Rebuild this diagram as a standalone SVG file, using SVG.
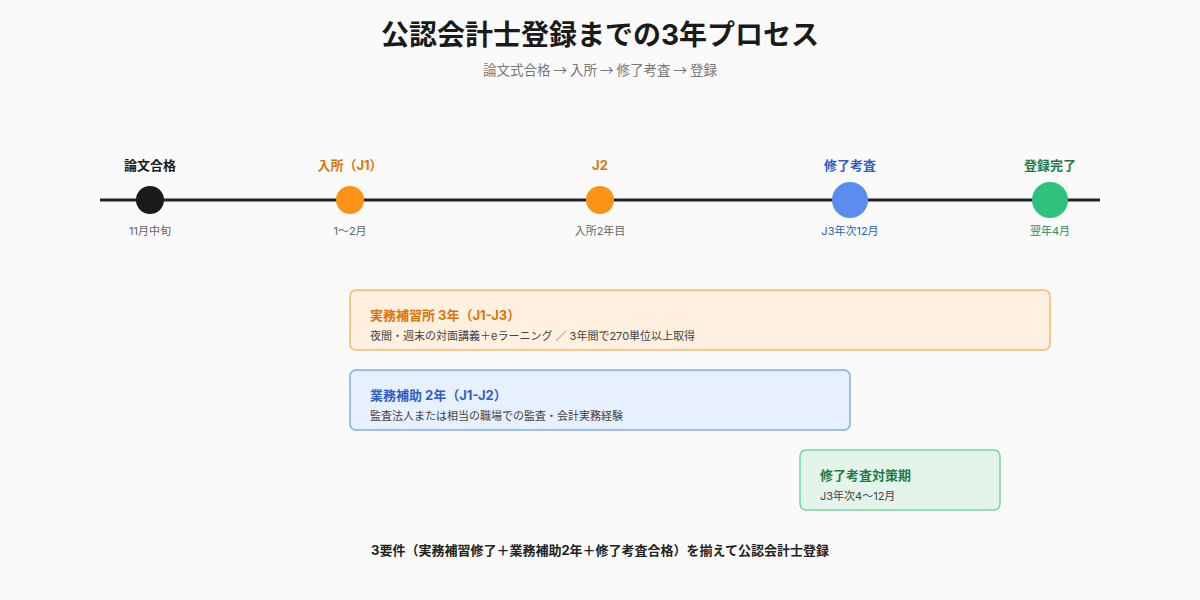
<svg xmlns="http://www.w3.org/2000/svg" width="1200" height="600" viewBox="0 0 1200 600">
<style>
text{font-family:Inter,"Noto Sans CJK JP","Noto Sans",sans-serif;}
.title{font-size:28px;font-weight:700;fill:#1a1a1a;text-anchor:middle;}
.sub{font-size:13.5px;fill:#777;text-anchor:middle;font-family:"Noto Sans CJK JP",sans-serif;}
.top{font-size:13px;font-weight:700;text-anchor:middle;}
.bot{font-size:11px;text-anchor:middle;}
.bt{font-size:13px;font-weight:700;}
.bs{font-size:11px;fill:#444;}
.foot{font-size:13px;font-weight:700;fill:#222;text-anchor:middle;}
</style>
<rect width="1200" height="600" fill="#fafafa"/>
<text class="title" x="600" y="45">公認会計士登録までの3年プロセス</text>
<text class="sub" x="600" y="75">論文式合格 → 入所 → 修了考査 → 登録</text>
<g id="connectors">
<line x1="100" y1="200" x2="1100" y2="200" stroke="#222" stroke-width="3"/>
</g>
<g id="m1">
<text class="top" x="150" y="170" fill="#1a1a1a">論文合格</text>
<circle cx="150" cy="200" r="14" fill="#1a1a1a"/>
<text class="bot" x="150" y="235" fill="#666">11月中旬</text>
</g>
<g id="m2">
<text class="top" x="350" y="170" fill="#d9760a">入所（J1）</text>
<circle cx="350" cy="200" r="14" fill="#fb9317"/>
<text class="bot" x="350" y="235" fill="#666">1〜2月</text>
</g>
<g id="m3">
<text class="top" x="600" y="170" fill="#d9760a">J2</text>
<circle cx="600" cy="200" r="14" fill="#fb9317"/>
<text class="bot" x="600" y="235" fill="#666">入所2年目</text>
</g>
<g id="m4">
<text class="top" x="850" y="170" fill="#2f5fc4">修了考査</text>
<circle cx="850" cy="200" r="18" fill="#5b8def"/>
<text class="bot" x="850" y="235" fill="#2f5fc4">J3年次12月</text>
</g>
<g id="m5">
<text class="top" x="1050" y="170" fill="#1f7a4a">登録完了</text>
<circle cx="1050" cy="200" r="18" fill="#2ec27e"/>
<text class="bot" x="1050" y="235" fill="#2f8a55">翌年4月</text>
</g>
<g id="box1">
<rect x="350" y="290" width="700" height="60" rx="6" fill="#fff0e0" stroke="#f9b868" stroke-width="1.5"/>
<text class="bt" x="370" y="320" fill="#d9760a">実務補習所 3年（J1-J3）</text>
<text class="bs" x="370" y="340">夜間・週末の対面講義＋eラーニング ／ 3年間で270単位以上取得</text>
</g>
<g id="box2">
<rect x="350" y="370" width="500" height="60" rx="6" fill="#e6f0ff" stroke="#86a8ef" stroke-width="1.5"/>
<text class="bt" x="370" y="400" fill="#2f5fc4">業務補助 2年（J1-J2）</text>
<text class="bs" x="370" y="420">監査法人または相当の職場での監査・会計実務経験</text>
</g>
<g id="box3">
<rect x="800" y="450" width="200" height="60" rx="6" fill="#e3f5ea" stroke="#74d6a4" stroke-width="1.5"/>
<text class="bt" x="820" y="480" fill="#1f7a4a">修了考査対策期</text>
<text class="bs" x="820" y="500">J3年次4〜12月</text>
</g>
<text class="foot" x="600" y="555">3要件（実務補習修了＋業務補助2年＋修了考査合格）を揃えて公認会計士登録</text>
</svg>
